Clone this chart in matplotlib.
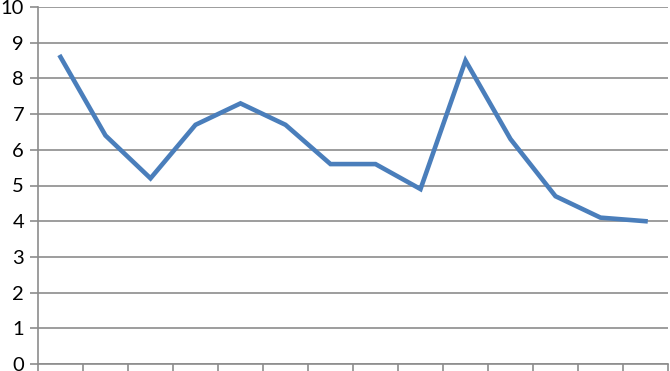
import matplotlib
matplotlib.use("Agg")
import matplotlib.pyplot as plt
import numpy as np

# values
categories = list(range(1, 15))
values = [8.6, 6.4, 5.2, 6.7, 7.3, 6.7, 5.6, 5.6, 4.9, 8.5, 6.3, 4.7, 4.1, 4.0]
y_ticks = list(range(0, 11))

plt.rcParams["font.family"] = ["Lato", "DejaVu Sans"]

fig = plt.figure(figsize=(6.7, 3.71), dpi=100)
ax = fig.add_axes([38 / 670, 7 / 371, 630 / 670, 357 / 371])

x = np.arange(len(categories))
ax.plot(x, values, color="#4a7ebb", linewidth=3.3, solid_joinstyle="miter")

ax.set_xlim(-0.5, len(categories) - 0.5)
ax.set_ylim(0, 10)
ax.set_yticks(y_ticks)
ax.set_xticks(np.arange(len(categories) + 1) - 0.5)
ax.set_xticklabels([])
ax.yaxis.grid(True, color="#8c8c8c", linewidth=1.2)
ax.set_axisbelow(True)

for s in ["top", "right"]:
    ax.spines[s].set_visible(False)
for s in ["left", "bottom"]:
    ax.spines[s].set_color("#8c8c8c")
    ax.spines[s].set_linewidth(1.2)

ax.tick_params(axis="both", direction="out", length=6, width=1.2, color="#8c8c8c")
ax.tick_params(axis="y", labelsize=14.5, pad=4, labelcolor="black")
ax.tick_params(axis="x", pad=0)

fig.savefig("out.png", dpi=100)
